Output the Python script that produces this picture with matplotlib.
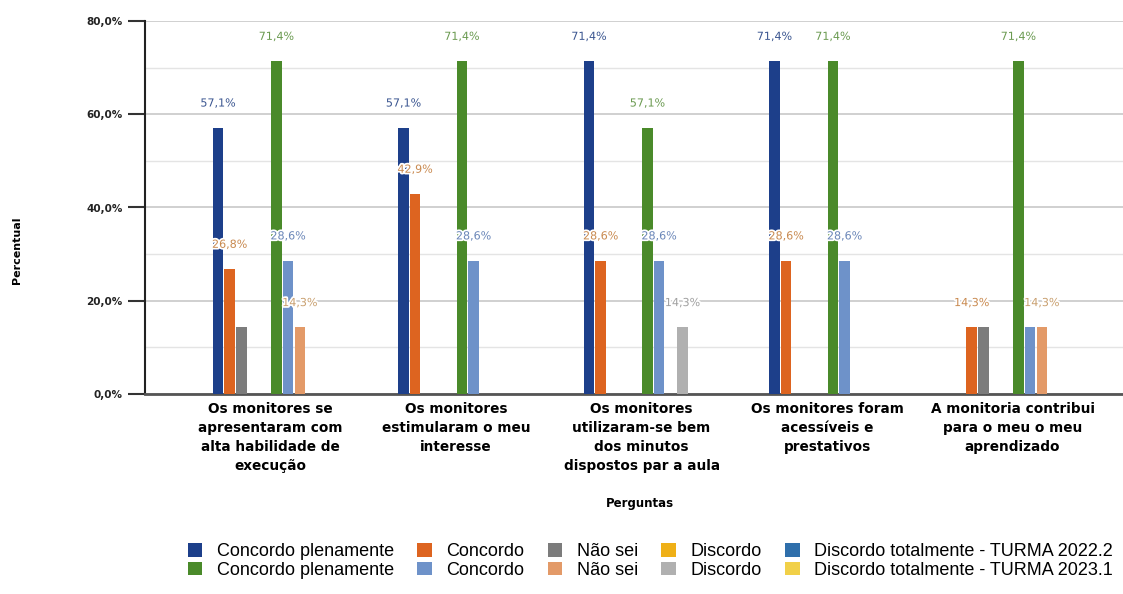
import matplotlib
matplotlib.use("Agg")
import matplotlib.pyplot as plt
import matplotlib.patheffects as pe
import numpy as np

categories = [
    "Os monitores se\napresentaram com\nalta habilidade de\nexecução",
    "Os monitores\nestimularam o meu\ninteresse",
    "Os monitores\nutilizaram-se bem\ndos minutos\ndispostos par a aula",
    "Os monitores foram\nacessíveis e\nprestativos",
    "A monitoria contribui\npara o meu o meu\naprendizado",
]

series_names = [
    "Concordo plenamente", "Concordo", "Não sei", "Discordo",
    "Discordo totalmente - TURMA 2022.2",
    "Concordo plenamente", "Concordo", "Não sei", "Discordo",
    "Discordo totalmente - TURMA 2023.1",
]

# Turma 2022.2
cp_2022 = [57.1, 57.1, 71.4, 71.4, 0.0]
c_2022 = [26.8, 42.9, 28.6, 28.6, 14.3]
ns_2022 = [14.3, 0.0, 0.0, 0.0, 14.3]
d_2022 = [0.0, 0.0, 0.0, 0.0, 0.0]
dt_2022 = [0.0, 0.0, 0.0, 0.0, 0.0]
# Turma 2023.1
cp_2023 = [71.4, 71.4, 57.1, 71.4, 71.4]
c_2023 = [28.6, 28.6, 28.6, 28.6, 14.3]
ns_2023 = [14.3, 0.0, 0.0, 0.0, 14.3]
d_2023 = [0.0, 0.0, 14.3, 0.0, 0.0]
dt_2023 = [0.0, 0.0, 0.0, 0.0, 0.0]

series_values = [cp_2022, c_2022, ns_2022, d_2022, dt_2022,
                 cp_2023, c_2023, ns_2023, d_2023, dt_2023]

# labels shown in the chart (category index, series index)
shown_labels = [
    (0, 0), (0, 1), (0, 5), (0, 6), (0, 7),
    (1, 0), (1, 1), (1, 5), (1, 6),
    (2, 0), (2, 1), (2, 5), (2, 6), (2, 8),
    (3, 0), (3, 1), (3, 5), (3, 6),
    (4, 1), (4, 5), (4, 7),
]

colors = ["#1d3f8a", "#dd6420", "#7c7c7c", "#efb017", "#2f6fab",
          "#4a8a2a", "#6e92c9", "#e39a68", "#b0b0b0", "#f1d048"]
label_colors = ["#3a5590", "#c98a50", "#8a8a8a", "#c9a040", "#4a7aaa",
                "#6a9a50", "#6a86b8", "#c9a070", "#a0a0a0", "#c9b060"]

W, H = 1123, 594
fig = plt.figure(figsize=(W / 100, H / 100), dpi=100)
ax = fig.add_axes([145 / W, 1 - 394 / H, (W - 145) / W, (394 - 21) / H])

slot = 0.063
x = np.arange(len(categories))
for j, vals in enumerate(series_values):
    xpos = x + (j - 4.5) * slot
    ax.bar(xpos, vals, width=slot * 0.9, color=colors[j], zorder=3,
           label=series_names[j])

for (i, j) in shown_labels:
    v = series_values[j][i]
    xp = x[i] + (j - 4.5) * slot
    t = ax.text(xp, v + 5.2, f"{v:.1f}%".replace(".", ","), ha="center",
                va="center", fontsize=8, color=label_colors[j], zorder=5)
    t.set_path_effects([pe.withStroke(linewidth=2.5, foreground="white")])

ax.set_xlim((145 - 270.6) / 185.5, (W - 270.6) / 185.5)
ax.set_ylim(0, 80)
ax.set_yticks([0, 20, 40, 60, 80])
ax.set_yticklabels(["0,0%", "20,0%", "40,0%", "60,0%", "80,0%"],
                   fontsize=7.5, fontweight="bold", color="#222222")
ax.set_yticks([10, 30, 50, 70], minor=True)
ax.tick_params(axis="y", which="major", length=12, width=1.5, pad=4,
               color="#333333")
ax.tick_params(axis="y", which="minor", length=0)
ax.grid(axis="y", which="major", color="#c8c8c8", linewidth=1.2, zorder=0)
ax.grid(axis="y", which="minor", color="#e4e4e4", linewidth=1.0, zorder=0)

ax.set_xticks(x)
ax.set_xticklabels(categories, fontsize=9.8, fontweight="bold",
                   linespacing=1.45, va="top")
ax.tick_params(axis="x", length=0, pad=6)

for s in ["top", "right"]:
    ax.spines[s].set_visible(False)
ax.spines["left"].set_linewidth(1.5)
ax.spines["left"].set_color("#222222")
ax.spines["bottom"].set_linewidth(2)
ax.spines["bottom"].set_color("#555555")

fig.text(17 / W, 1 - 250 / H, "Percentual", rotation=90, ha="center",
         va="center", fontsize=8, fontweight="bold")
fig.text(640 / W, 1 - 503 / H, "Perguntas", ha="center", va="center",
         fontsize=8.5, fontweight="bold")

handles, labels = ax.get_legend_handles_labels()
order = [0, 5, 1, 6, 2, 7, 3, 8, 4, 9]
leg = fig.legend([handles[k] for k in order], [labels[k] for k in order],
                 ncol=5, loc="upper left",
                 bbox_to_anchor=(188 / W, 1 - 543 / H), frameon=False,
                 prop={"family": "Liberation Sans", "size": 13},
                 handlelength=0.8, handleheight=0.8, handletextpad=0.8,
                 columnspacing=1.3, labelspacing=0.08, borderaxespad=0,
                 borderpad=0)

fig.savefig("out.png", dpi=100)
